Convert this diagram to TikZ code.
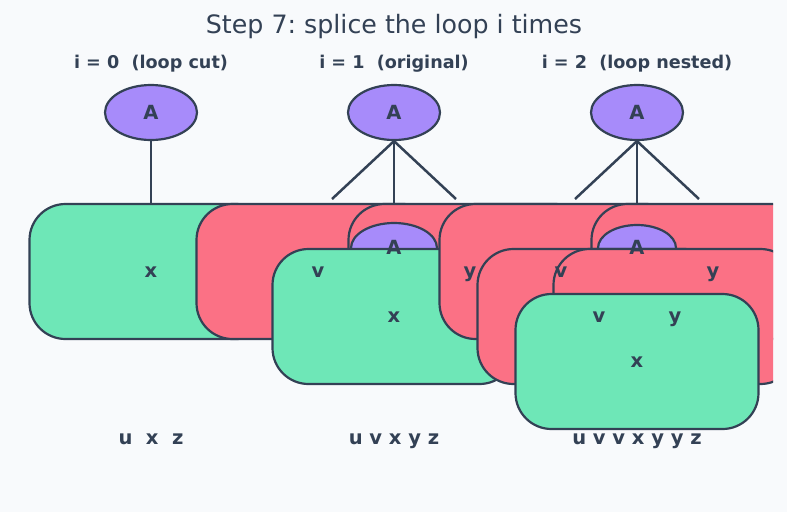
\documentclass[tikz,border=0pt]{standalone}
\usepackage{fontspec}
\setmainfont{DejaVu Sans}
\usetikzlibrary{shapes.geometric}
\definecolor{bgc}{HTML}{F8FAFC}
\definecolor{stroke}{HTML}{334155}
\definecolor{ink}{HTML}{334155}
\definecolor{grn}{HTML}{6EE7B7}
\definecolor{rosec}{HTML}{FB7185}
\definecolor{purp}{HTML}{A78BFA}
\frenchspacing
\begin{document}
\begin{tikzpicture}[x=1pt,y=-1pt,
  ellroot/.style={ellipse, draw=stroke, fill=purp, line width=2.2pt, inner sep=0,
    minimum width=92pt, minimum height=55pt, text=ink,
    font=\fontsize{19.5}{22}\selectfont\bfseries},
  ellin/.style={ellipse, draw=stroke, fill=purp, line width=2.2pt, inner sep=0},
  gbox/.style={rectangle, rounded corners=36pt, draw=stroke, fill=grn, line width=2.2pt,
    minimum width=243pt, minimum height=135pt, inner sep=0},
  rbox/.style={gbox, fill=rosec},
  treeline/.style={draw=stroke, line width=2.5pt},
  txt/.style={anchor=base, text=ink, inner sep=0, font=\fontsize{19.5}{22}\selectfont\bfseries},
  head/.style={anchor=base, text=ink, inner sep=0, font=\fontsize{17.6}{20}\selectfont\bfseries},
  ttl/.style={anchor=base, text=ink, inner sep=0, font=\fontsize{25.3}{30}\selectfont}
]
\fill[bgc] (0,0) rectangle (787,512);
\useasboundingbox (0,0) rectangle (787,512);

\node[ttl] (title) at (394,33) {Step 7: splice the loop i times};
\node[head] (h1) at (151,68) {i = 0~~(loop cut)};
\node[head] (h2) at (394,68) {i = 1~~(original)};
\node[head] (h3) at (637,68) {i = 2~~(loop nested)};

\begin{scope}
\clip (0,0) rectangle (773,512);
% panel 1
\node[ellroot] (r1) at (151,112.5) {A};
\coordinate (m1) at (151,204);
\draw[treeline] (r1.south) -- (m1);
\node[gbox] (b1x) at (151,271.5) {};
% panel 2
\node[ellroot] (r2) at (394,112.5) {A};
\coordinate (l2) at (332,199);
\coordinate (m2) at (394,204);
\coordinate (q2) at (456,199);
\draw[treeline] (r2.south) -- (l2);
\draw[treeline] (r2.south) -- (m2);
\draw[treeline] (r2.south) -- (q2);
\node[rbox] (b2v) at (318,271.5) {};
\node[rbox] (b2y) at (470,271.5) {};
\node[ellin, minimum width=86pt, minimum height=50pt] (e2) at (394,248) {};
\node[gbox] (b2x) at (394,316.5) {};
% panel 3
\node[ellroot] (r3) at (637,112.5) {A};
\coordinate (l3) at (575,199);
\coordinate (m3) at (637,204);
\coordinate (q3) at (699,199);
\draw[treeline] (r3.south) -- (l3);
\draw[treeline] (r3.south) -- (m3);
\draw[treeline] (r3.south) -- (q3);
\node[rbox] (b3v) at (561,271.5) {};
\node[rbox] (b3y) at (713,271.5) {};
\node[ellin, minimum width=78pt, minimum height=46pt] (e3) at (637,248) {};
\node[rbox] (c3v) at (599,316.5) {};
\node[rbox] (c3y) at (675,316.5) {};
\node[gbox] (c3x) at (637,361.5) {};
\end{scope}

% labels on top
\node[txt] (t1x) at (151,277) {x};
\node[txt] (t2v) at (318,277) {v};
\node[txt] (t2y) at (470,277) {y};
\node[txt] (t2A) at (394,254.5) {A};
\node[txt] (t2x) at (394,322) {x};
\node[txt] (t3v) at (561,277) {v};
\node[txt] (t3y) at (713,277) {y};
\node[txt] (t3A) at (637,254.5) {A};
\node[txt] (u3v) at (599,322) {v};
\node[txt] (u3y) at (675,322) {y};
\node[txt] (u3x) at (637,367) {x};

\node[txt] (s1) at (151,444) {u~~x~~z};
\node[txt] (s2) at (394,444) {u v x y z};
\node[txt] (s3) at (637,444) {u v v x y y z};
\end{tikzpicture}
\end{document}
